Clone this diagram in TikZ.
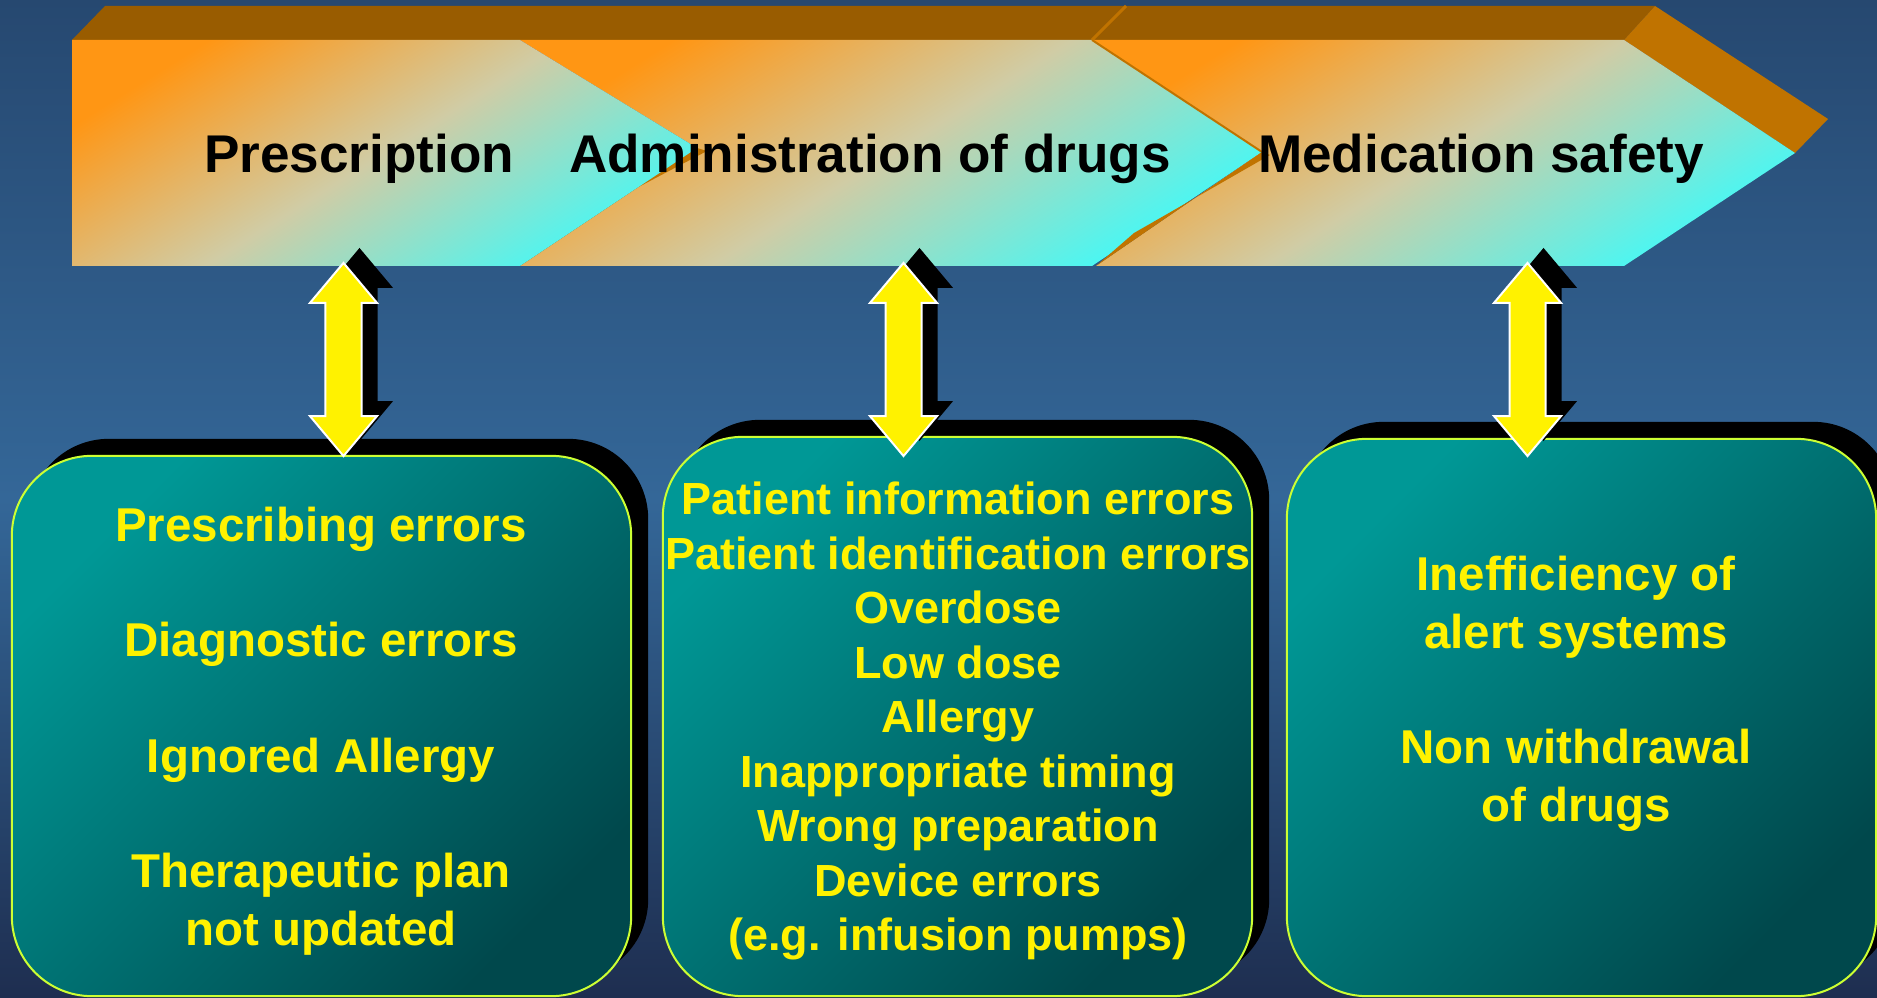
\documentclass[tikz,border=0pt]{standalone}
\usepackage{fontspec}
\setmainfont{Liberation Sans}
\usetikzlibrary{shapes.arrows,shadows}

\definecolor{topface}{RGB}{153,92,0}
\definecolor{sideface}{RGB}{192,115,0}
\definecolor{chevorange}{RGB}{255,150,20}
\definecolor{chevcyan}{RGB}{70,248,245}
\definecolor{chevmid}{RGB}{208,204,165}
\definecolor{boxlight}{RGB}{0,152,150}
\definecolor{boxdark}{RGB}{0,72,76}
\definecolor{boxline}{RGB}{204,255,51}
\definecolor{bgtop}{RGB}{38,72,112}
\definecolor{bgmid}{RGB}{52,103,152}
\definecolor{bgbot}{RGB}{30,46,80}

\begin{document}
\begin{tikzpicture}[x=0.01cm,y=-0.01cm]
\tikzstyle{chevface} = [top color=chevorange, bottom color=chevcyan, middle color=chevmid, shading angle=32];
\tikzstyle{stage} = [font=\fontsize{15.1pt}{18pt}\selectfont\bfseries, anchor=base, inner sep=0];
\tikzstyle{errbox} = [draw=boxline, line width=0.02cm, rounded corners=0.8cm, top color=boxlight, bottom color=boxdark, shading angle=45, drop shadow={shadow xshift=0.17cm, shadow yshift=0.17cm, opacity=1, fill=black}];
\tikzstyle{errtext} = [text=yellow, align=center, inner sep=0, font=\fontsize{13.5pt}{16.4pt}\selectfont\bfseries];
\tikzstyle{link} = [double arrow, fill=yellow, draw=white, line width=0.02cm, rotate=90, inner xsep=0, inner ysep=0.17cm, minimum height=1.93cm, minimum width=0.65cm, double arrow head extend=0.155cm, double arrow tip angle=80];
\useasboundingbox (0,0) rectangle (1877,998);
\shade[top color=bgtop, bottom color=bgbot, middle color=bgmid] (0,0) rectangle (1877,998);
\fill[topface] (72,40) -- (105,6) -- (1655,6) -- (1624,40) -- cycle;
\fill[sideface] (1624,40) -- (1655,6) -- (1828,119) -- (1795,153) -- cycle;
\draw[sideface, line width=0.03cm] (1092,40) -- (1126,6);
\shade[chevface] (520,40) -- (1092,40) -- (1262,152) -- (1092,266) -- (520,266) -- (697,148) -- cycle;
\fill[sideface] (520,266) -- (553,232) -- (707,151) -- (697,148) -- cycle;
\shade[chevface] (72,40) -- (520,40) -- (697,148) -- (520,266) -- (72,266) -- cycle;
\shade[chevface] (1092,40) -- (1624,40) -- (1795,153) -- (1624,266) -- (1096,266) -- (1262,152) -- cycle;
\fill[sideface] (1096,266) -- (1134,233) -- (1270,155) -- (1262,152) -- cycle;
\draw[sideface, line width=0.02cm] (1092,40) -- (1262,152);
\node[stage] (prescr) at (359,173) {Prescription};
\node[stage] (admin) at (870,173) {Administration of drugs};
\node[stage] (safety) at (1481,173) {Medication safety};
\node[errbox, minimum width=6.19cm, minimum height=5.4cm] (prbox) at (321.5,726) {};
\node[errbox, minimum width=5.89cm, minimum height=5.59cm] (adbox) at (957.5,716.5) {};
\node[errbox, minimum width=5.89cm, minimum height=5.57cm] (sfbox) at (1581.5,717.5) {};
\node[errtext] (prlist) at (321,731) {Prescribing errors\\[\baselineskip]Diagnostic errors\\[\baselineskip]Ignored Allergy\\[\baselineskip]Therapeutic plan\\not updated};
\node[errtext, font=\fontsize{12.8pt}{15.5pt}\selectfont\bfseries] (adlist) at (958,721) {Patient information errors\\Patient identification errors\\Overdose\\Low dose\\Allergy\\Inappropriate timing\\Wrong preparation\\Device errors\\(e.g. infusion pumps)};
\node[errtext] (sflist) at (1576,694) {Inefficiency of\\alert systems\\[\baselineskip]Non withdrawal\\of drugs};
\foreach \x/\n in {343.5/pr, 903.5/ad, 1527.5/sf} {
  \node[link, fill=black, draw=none] (\n shadow) at (\x+16,344.5) {};
  \node[link] (\n link) at (\x,359.5) {};
}
\end{tikzpicture}
\end{document}
